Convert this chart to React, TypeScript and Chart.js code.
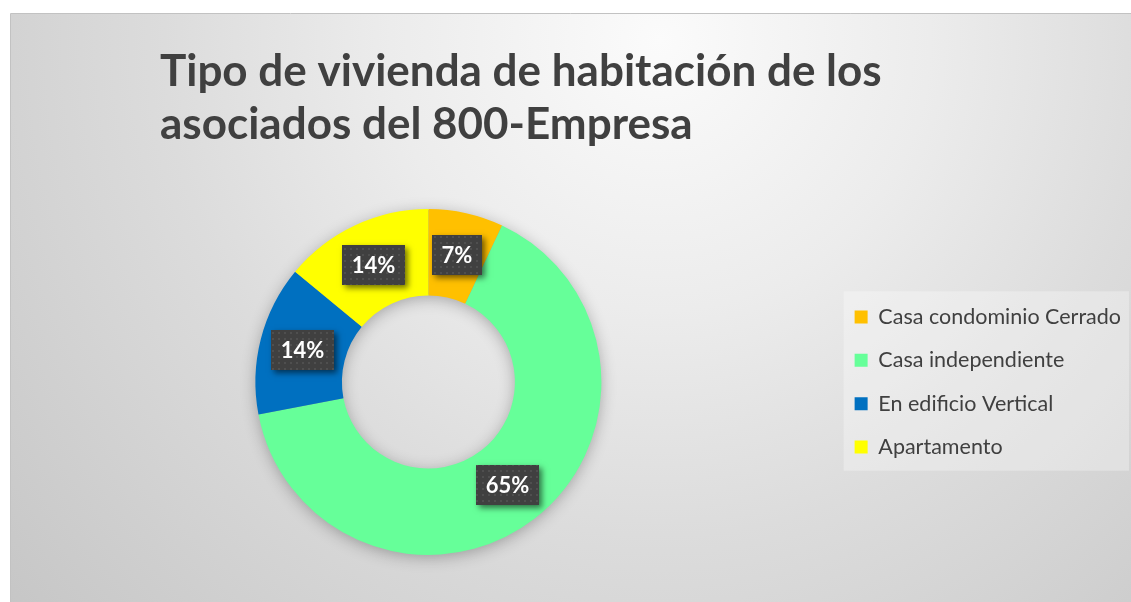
import React, { useEffect, useRef } from 'react';
import { Chart, registerables } from 'chart.js';

Chart.register(...registerables);

const categories = ['Casa condominio Cerrado', 'Casa independiente', 'En edificio Vertical', 'Apartamento'];
const values = [7, 65, 14, 14];
const colors = ['#FFC000', '#66FF99', '#0070C0', '#FFFF00'];
const titleLines = ['Tipo de vivienda de habitación de los', 'asociados del 800-Empresa'];

const W = 1131;
const H = 602;
const FONT = 'Lato, "Open Sans", sans-serif';

function makeDotPattern(ctx: CanvasRenderingContext2D) {
  const c = document.createElement('canvas');
  c.width = 6;
  c.height = 6;
  const p = c.getContext('2d')!;
  p.fillStyle = 'rgba(255,255,255,0.08)';
  p.fillRect(2, 2, 2, 2);
  return ctx.createPattern(c, 'repeat');
}

const bgPlugin = {
  id: 'bgPlugin',
  beforeDraw(chart: any) {
    const ctx = chart.ctx as CanvasRenderingContext2D;
    ctx.save();
    ctx.fillStyle = '#ffffff';
    ctx.fillRect(0, 0, W, H);
    const g = ctx.createRadialGradient(660, 40, 0, 660, 40, 900);
    g.addColorStop(0, '#fbfbfb');
    g.addColorStop(0.3, '#ececec');
    g.addColorStop(0.55, '#dcdcdc');
    g.addColorStop(1, '#c4c4c4');
    ctx.fillStyle = g;
    ctx.fillRect(10, 14, W - 10, H - 14);
    ctx.strokeStyle = '#c2c2c2';
    ctx.lineWidth = 1;
    ctx.beginPath();
    ctx.moveTo(10.5, H);
    ctx.lineTo(10.5, 13.5);
    ctx.lineTo(W, 13.5);
    ctx.stroke();

    const lg = chart.legend;
    if (lg && lg.legendHitBoxes && lg.legendHitBoxes.length) {
      const hb = lg.legendHitBoxes;
      const x0 = hb[0].left - 11;
      const y0 = hb[0].top - 15;
      const last = hb[hb.length - 1];
      const y1 = last.top + last.height + 13;
      ctx.fillStyle = 'rgba(255,255,255,0.3)';
      ctx.fillRect(x0, y0, W - 2 - x0, y1 - y0);
    }

    ctx.fillStyle = '#404040';
    ctx.font = `bold 44px ${FONT}`;
    ctx.textAlign = 'left';
    ctx.textBaseline = 'alphabetic';
    ctx.fillText(titleLines[0], 160, 86);
    ctx.fillText(titleLines[1], 160, 139);
    ctx.restore();
  },
};

const ringShadowPlugin = {
  id: 'ringShadow',
  beforeDatasetsDraw(chart: any) {
    const meta = chart.getDatasetMeta(0);
    const arc = meta.data[0];
    if (!arc) return;
    const ctx = chart.ctx as CanvasRenderingContext2D;
    const { x, y, outerRadius, innerRadius } = arc.getProps(['x', 'y', 'outerRadius', 'innerRadius'], true);
    ctx.save();
    ctx.shadowColor = 'rgba(0,0,0,0.3)';
    ctx.shadowBlur = 16;
    ctx.shadowOffsetY = 3;
    ctx.fillStyle = '#999';
    ctx.beginPath();
    ctx.arc(x, y, outerRadius - 1, 0, Math.PI * 2);
    ctx.arc(x, y, innerRadius + 1, 0, Math.PI * 2, true);
    ctx.fill('evenodd');
    ctx.restore();
  },
};

const labelPlugin = {
  id: 'boxLabels',
  afterDatasetsDraw(chart: any) {
    const ctx = chart.ctx as CanvasRenderingContext2D;
    const meta = chart.getDatasetMeta(0);
    const data = chart.data.datasets[0].data as number[];
    const total = data.reduce((a, b) => a + b, 0);
    const pattern = makeDotPattern(ctx);
    meta.data.forEach((arc: any, i: number) => {
      const p = arc.getCenterPoint(true);
      const txt = Math.round((data[i] / total) * 100) + '%';
      ctx.save();
      ctx.font = `bold 22px ${FONT}`;
      const tw = ctx.measureText(txt).width;
      const bw = Math.round(tw + 19);
      const bh = 40;
      const bx = Math.round(p.x - bw / 2);
      const by = Math.round(p.y - bh / 2);
      ctx.shadowColor = 'rgba(0,0,0,0.55)';
      ctx.shadowBlur = 6;
      ctx.shadowOffsetX = 3;
      ctx.shadowOffsetY = 3;
      ctx.fillStyle = '#404040';
      ctx.fillRect(bx, by, bw, bh);
      ctx.restore();
      ctx.save();
      if (pattern) {
        ctx.fillStyle = pattern;
        ctx.fillRect(bx, by, bw, bh);
      }
      ctx.font = `bold 22px ${FONT}`;
      ctx.fillStyle = '#ffffff';
      ctx.textAlign = 'center';
      ctx.textBaseline = 'middle';
      ctx.fillText(txt, bx + bw / 2, by + bh / 2 + 1);
      ctx.restore();
    });
  },
};

export default function App() {
  const ref = useRef<HTMLCanvasElement>(null);
  useEffect(() => {
    document.body.style.margin = '0';
    const chart = new Chart(ref.current!, {
      type: 'doughnut',
      data: {
        labels: categories,
        datasets: [
          {
            data: values,
            backgroundColor: colors,
            borderWidth: 0,
            hoverBorderWidth: 0,
            hoverOffset: 0,
          },
        ],
      },
      options: {
        responsive: false,
        animation: false,
        devicePixelRatio: 1,
        cutout: '50%',
        events: [],
        layout: { padding: { left: 24, top: 209, bottom: 47, right: 0 } },
        plugins: {
          title: { display: false },
          tooltip: { enabled: false },
          legend: {
            display: true,
            position: 'right',
            labels: {
              boxWidth: 13,
              boxHeight: 13,
              padding: 21.8,
              color: '#404040',
              font: { family: FONT, size: 21.5 },
            },
          },
        },
      },
      plugins: [bgPlugin, ringShadowPlugin, labelPlugin],
    } as any);
    return () => chart.destroy();
  }, []);
  return (
    <div style={{ width: W, height: H }}>
      <canvas ref={ref} width={W} height={H} style={{ display: 'block' }} />
    </div>
  );
}
